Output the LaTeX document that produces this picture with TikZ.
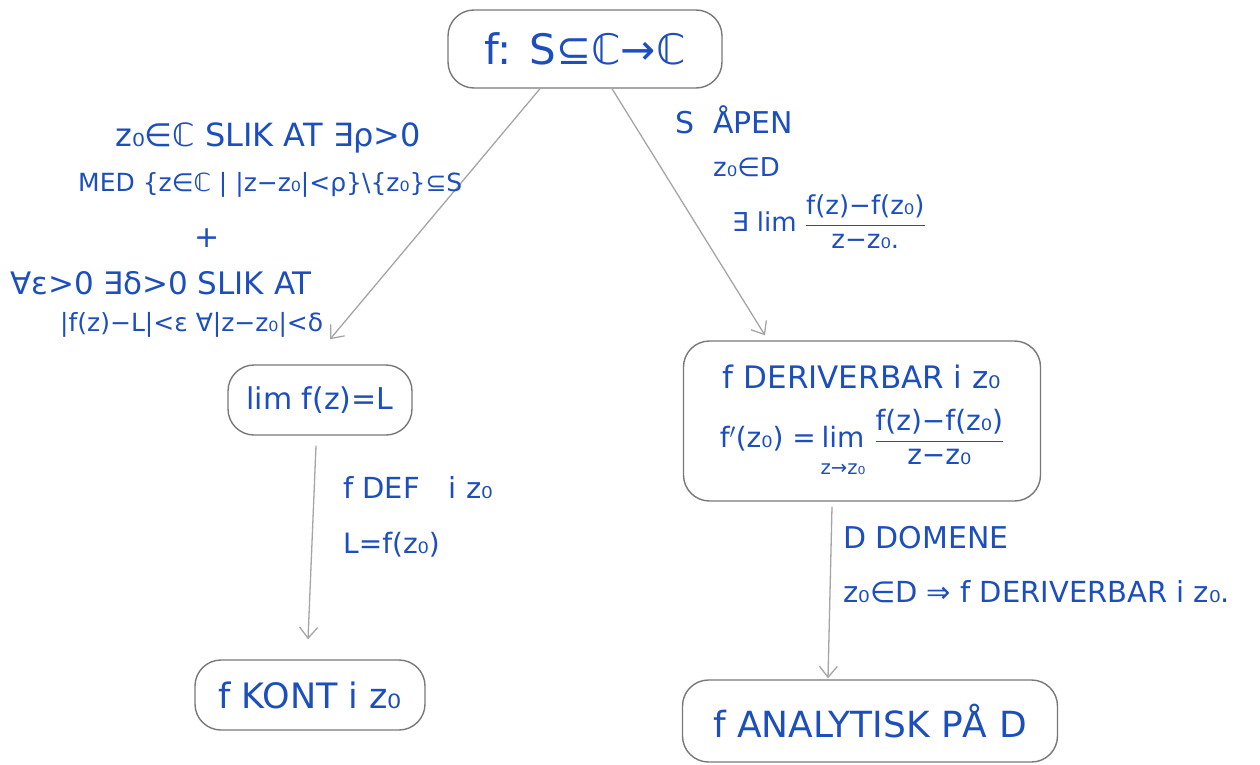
\documentclass[tikz,border=0pt]{standalone}
\usepackage{fontspec}
\usepackage{amsmath}
\usetikzlibrary{arrows.meta}
\newfontfamily\hand{DejaVu Sans}
\definecolor{ink}{RGB}{28,78,190}
\definecolor{boxgray}{RGB}{120,120,120}
\definecolor{arrgray}{RGB}{165,165,165}
\newcommand{\fs}[1]{\fontsize{#1}{#1}\selectfont}
\tikzset{
 box/.style={draw=boxgray, line width=1.4pt, rounded corners=26pt, text=ink, font=\hand\fs{28}, align=center, inner sep=0pt},
 lbl/.style={text=ink, font=\hand\fs{26}, inner sep=0pt},
 arr/.style={draw=arrgray, line width=1.3pt, -{Straight Barb[length=11pt,width=18pt,line width=1.3pt]}},
}
\begin{document}
\begin{tikzpicture}[x=1pt,y=-1pt]
\useasboundingbox (0,0) rectangle (1260,765);
% nodes
\node[box, minimum width=274pt, minimum height=78pt, font=\hand\fs{42}] (top) at (585,49) {f: S⊆ℂ→ℂ};
\node[box, minimum width=184pt, minimum height=70pt, font=\hand\fs{30}] (lim) at (320,400) {lim f(z)=L};
\node[box, minimum width=357pt, minimum height=160pt, font=\hand\fs{28}] (der) at (862,421) {{\fs{31}f DERIVERBAR i z₀}\\[20pt]
 $\text{f$'$(z₀) =\,} \underset{\text{\raisebox{-12pt}{z→z₀}}}{\text{lim}}\ \dfrac{\text{f(z)−f(z₀)}}{\text{z−z₀}}$};
\node[box, minimum width=230pt, minimum height=70pt, font=\hand\fs{35}] (kont) at (310,695) {f KONT i z₀};
\node[box, minimum width=375pt, minimum height=82pt, font=\hand\fs{36}] (ana) at (870,721) {f ANALYTISK PÅ D};
% connectors
\draw[arr] ([xshift=-45pt]top.south) -- ([xshift=10pt,yshift=25pt]lim.north);
\draw[arr] ([xshift=27pt]top.south) -- ([xshift=-97pt,yshift=5pt]der.north);
\draw[arr] ([xshift=-4pt,yshift=-10pt]lim.south) -- ([xshift=-2pt,yshift=20pt]kont.north);
\draw[arr] ([xshift=-30pt,yshift=-5pt]der.south) -- ([xshift=-42pt,yshift=1pt]ana.north);
% left edge labels
\node[lbl, anchor=west, font=\hand\fs{32}] (l1) at (115,138) {z₀∈ℂ SLIK AT ∃ρ>0};
\node[lbl, anchor=west, font=\hand\fs{25}] (l2) at (78,185) {MED \{z∈ℂ | |z−z₀|<ρ\}\textbackslash\{z₀\}⊆S};
\node[lbl, font=\hand\fs{30}] (l3) at (207,238) {+};
\node[lbl, anchor=west, font=\hand\fs{31}] (l4) at (10,283) {∀ε>0 ∃δ>0 SLIK AT};
\node[lbl, anchor=west, font=\hand\fs{25}] (l5) at (60,325) {|f(z)−L|<ε ∀|z−z₀|<δ};
% right edge labels
\node[lbl, anchor=west, font=\hand\fs{30}] (r1) at (675,120) {S\ \ ÅPEN};
\node[lbl, anchor=west] (r2) at (713,167) {z₀∈D};
\node[lbl, anchor=west] (r3) at (732,222) {∃ lim $\dfrac{\text{f(z)−f(z₀)}}{\text{z−z₀.}}$};
% lower edge labels
\node[lbl, anchor=west, font=\hand\fs{29}] (m1) at (343,488) {f DEF\quad i z₀};
\node[lbl, anchor=west, font=\hand\fs{28}] (m2) at (343,545) {L=f(z₀)};
\node[lbl, anchor=west, font=\hand\fs{30}] (n1) at (843,538) {D DOMENE};
\node[lbl, anchor=west, font=\hand\fs{29}] (n2) at (843,592) {z₀∈D ⇒ f DERIVERBAR i z₀.};
\end{tikzpicture}
\end{document}
